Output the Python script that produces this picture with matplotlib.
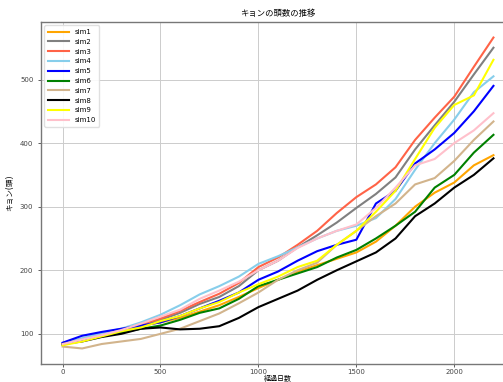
import numpy as np
import matplotlib
matplotlib.use('Agg')
import matplotlib.pyplot as plt

plt.rcParams['font.family'] = ['DejaVu Sans', 'Noto Sans CJK JP']

# days (every 100) and readings for each simulation
days = np.arange(0, 2201, 100)

sim1 = [84, 92, 101, 107, 113, 118, 125, 135, 145, 158, 172, 185, 198, 208, 218, 228, 245, 270, 300, 322, 338, 365, 381]
sim2 = [83, 90, 97, 104, 112, 122, 133, 147, 158, 175, 200, 215, 236, 255, 275, 298, 320, 346, 390, 428, 465, 508, 550]
sim3 = [84, 92, 99, 106, 115, 124, 136, 150, 163, 180, 205, 220, 240, 262, 290, 315, 335, 362, 405, 440, 473, 520, 566]
sim4 = [85, 93, 101, 108, 118, 130, 145, 162, 175, 190, 210, 222, 236, 250, 262, 270, 282, 312, 358, 400, 437, 480, 505]
sim5 = [86, 97, 103, 108, 113, 118, 128, 140, 152, 165, 185, 198, 215, 230, 240, 248, 305, 325, 368, 390, 416, 450, 490]
sim6 = [83, 90, 96, 102, 108, 113, 122, 133, 140, 155, 175, 185, 195, 205, 220, 232, 250, 270, 292, 330, 350, 385, 413]
sim7 = [80, 77, 84, 88, 92, 100, 108, 120, 132, 148, 165, 185, 200, 212, 240, 262, 285, 305, 335, 345, 372, 405, 434]
sim8 = [84, 88, 95, 100, 108, 110, 107, 108, 112, 125, 142, 155, 168, 185, 200, 214, 228, 250, 285, 305, 330, 350, 376]
sim9 = [82, 88, 96, 104, 110, 120, 128, 140, 150, 165, 178, 190, 205, 215, 240, 262, 292, 325, 375, 424, 460, 475, 531]
sim10 = [84, 91, 98, 106, 116, 127, 138, 155, 168, 182, 200, 215, 235, 250, 262, 272, 298, 330, 365, 375, 400, 420, 447]

sims = [sim1, sim2, sim3, sim4, sim5, sim6, sim7, sim8, sim9, sim10]
labels = ['sim1', 'sim2', 'sim3', 'sim4', 'sim5', 'sim6', 'sim7', 'sim8', 'sim9', 'sim10']
colors = ['orange', 'gray', 'tomato', 'skyblue', 'blue', 'green', 'tan', 'black', 'yellow', 'pink']

fig = plt.figure(figsize=(5.03, 3.82), dpi=100)
ax = fig.add_axes([41 / 503, 18 / 382, 474 / 503, 342 / 382])

for s, lab, c in zip(sims, labels, colors):
    ax.plot(days, s, color=c, label=lab, linewidth=1.5)

ax.set_title('キョンの頭数の推移', fontsize=6, pad=4)
ax.set_xlabel('経過日数', fontsize=5, labelpad=0)
ax.set_ylabel('キョン(頭)', fontsize=5.5)
ax.tick_params(labelsize=5, length=2, width=0.6, colors='#444444')
ax.tick_params(axis='x', pad=1.5)
ax.grid(True, color='#cccccc', linewidth=0.7)
for sp in ax.spines.values():
    sp.set_color('#777777')
    sp.set_linewidth(1.0)

ax.legend(loc='upper left', fontsize=5, handlelength=3, labelspacing=0.55,
          borderpad=0.5, framealpha=0.9, edgecolor='#dddddd')

fig.savefig('out.png', dpi=100)
